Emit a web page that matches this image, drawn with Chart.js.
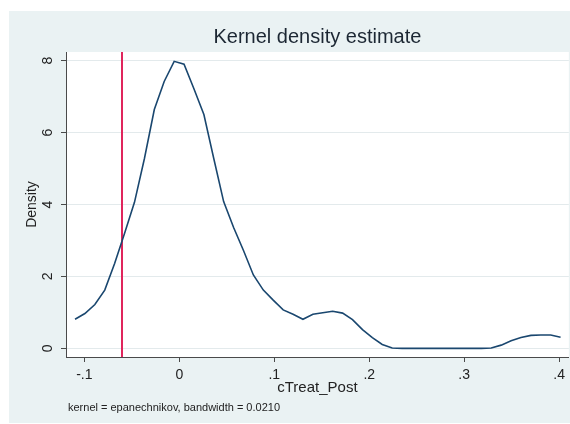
<!DOCTYPE html>
<html><head><meta charset="utf-8">
<script src="https://cdn.jsdelivr.net/npm/chart.js@4.4.1/dist/chart.umd.min.js"></script>
<style>html,body{margin:0;padding:0;background:#fff;}#wrap{width:570px;height:424px;position:relative;}</style>
</head><body><div id="wrap"><canvas id="c" width="570" height="424"></canvas></div>
<script>
// evaluation points of the kernel density
const gridX = [-0.1098,-0.0994,-0.0889,-0.0785,-0.0681,-0.0576,-0.0472,-0.0367,-0.0263,-0.0159,
  -0.0054,0.0050,0.0154,0.0259,0.0363,0.0467,0.0572,0.0676,0.0780,0.0885,
  0.0989,0.1094,0.1198,0.1302,0.1407,0.1511,0.1615,0.1720,0.1824,0.1929,
  0.2033,0.2137,0.2242,0.2346,0.2450,0.2555,0.2659,0.2763,0.2868,0.2972,
  0.3076,0.3181,0.3285,0.3390,0.3494,0.3598,0.3703,0.3807,0.3911,0.4015];
const density = [0.81,0.97,1.22,1.62,2.36,3.20,4.06,5.28,6.64,7.42,
  7.98,7.90,7.22,6.50,5.28,4.08,3.36,2.72,2.04,1.62,
  1.34,1.07,0.95,0.81,0.95,0.99,1.03,0.98,0.80,0.52,
  0.30,0.11,0.01,0,0,0,0,0,0,0,
  0,0,0.01,0.09,0.21,0.30,0.36,0.37,0.37,0.31];
const xTickValues = [-0.1,0,0.1,0.2,0.3,0.4];
const xTickLabels = ['-.1','0','.1','.2','.3','.4'];
const yTickValues = [0,2,4,6,8];
const yTickLabels = ['0','2','4','6','8'];
const refLineX = [-0.06];
const titleText = 'Kernel density estimate';
const xTitle = 'cTreat_Post';
const yTitle = 'Density';
const noteText = 'kernel = epanechnikov, bandwidth = 0.0210';

const FONT = '"Liberation Sans", Arial, sans-serif';
const AXIS = '#4a4a4a';
const TXT = '#222222';

function labelFor(vals, labels, v){
  for (let i=0;i<vals.length;i++) if (Math.abs(vals[i]-v)<1e-9) return labels[i];
  return '';
}

const bgPlugin = {
  id:'bg',
  beforeDraw(chart){
    const {ctx, chartArea:a} = chart;
    ctx.save();
    ctx.fillStyle = '#ffffff';
    ctx.fillRect(0,0,chart.width,chart.height);
    ctx.fillStyle = '#eaf2f3';
    ctx.fillRect(9,11,chart.width-9,chart.height-12);
    ctx.fillStyle = '#ffffff';
    ctx.fillRect(a.left,a.top,a.right-a.left,a.bottom-a.top);
    ctx.restore();
  },
  beforeDatasetsDraw(chart){
    const {ctx, chartArea:a} = chart;
    const xs = chart.scales.x;
    ctx.save();
    ctx.strokeStyle = '#e0255c';
    ctx.lineWidth = 2;
    refLineX.forEach(v=>{
      const px = Math.round(xs.getPixelForValue(v));
      ctx.beginPath();
      ctx.moveTo(px, a.top);
      ctx.lineTo(px, a.bottom);
      ctx.stroke();
    });
    ctx.restore();
  },
  afterDraw(chart){
    const {ctx, chartArea:a} = chart;
    ctx.save();
    ctx.fillStyle = '#1c2733';
    ctx.font = '20px ' + FONT;
    ctx.textAlign = 'center';
    ctx.textBaseline = 'alphabetic';
    ctx.fillText(titleText, (a.left+a.right)/2, 42.5);
    ctx.fillStyle = TXT;
    ctx.font = '11px ' + FONT;
    ctx.textAlign = 'left';
    ctx.textBaseline = 'middle';
    ctx.fillText(noteText, 68, 408);
    ctx.restore();
  }
};

new Chart(document.getElementById('c'), {
  type:'line',
  data:{
    datasets:[{
      data: gridX.map((x,i)=>({x:x, y:density[i]})),
      borderColor:'#1a476f',
      borderWidth:1.6,
      pointRadius:0,
      tension:0,
      fill:false
    }]
  },
  options:{
    responsive:false,
    devicePixelRatio:1,
    animation:false,
    layout:{padding:{top:52,left:0,right:1,bottom:0}},
    plugins:{legend:{display:false},tooltip:{enabled:false},title:{display:false}},
    scales:{
      x:{
        type:'linear',
        min:-0.1193, max:0.4102,
        afterBuildTicks(s){ s.ticks = xTickValues.map(v=>({value:v})); },
        afterFit(s){ s.height = 67; },
        ticks:{
          callback:(v)=>labelFor(xTickValues,xTickLabels,v),
          font:{family:FONT,size:14}, color:TXT, padding:5,
          maxRotation:0, minRotation:0, autoSkip:false
        },
        grid:{drawOnChartArea:false, drawTicks:true, tickLength:5, color:AXIS, tickColor:AXIS},
        border:{display:true, color:AXIS, width:1},
        title:{display:true, text:xTitle, font:{family:FONT,size:15}, color:TXT, padding:{top:0,bottom:27}}
      },
      y:{
        type:'linear',
        min:-0.24, max:8.24,
        afterBuildTicks(s){ s.ticks = yTickValues.map(v=>({value:v})); },
        afterFit(s){ s.width = 66; },
        ticks:{
          callback:(v)=>labelFor(yTickValues,yTickLabels,v),
          font:{family:FONT,size:14}, color:TXT, padding:9,
          minRotation:90, maxRotation:90, crossAlign:'center', autoSkip:false
        },
        grid:{color:'#e3eaec', tickColor:AXIS, tickLength:5, lineWidth:1},
        border:{display:true, color:AXIS, width:1},
        title:{display:true, text:yTitle, font:{family:FONT,size:14}, color:TXT, padding:{top:23.6,bottom:0}}
      }
    }
  },
  plugins:[bgPlugin]
});
</script>
</body></html>
